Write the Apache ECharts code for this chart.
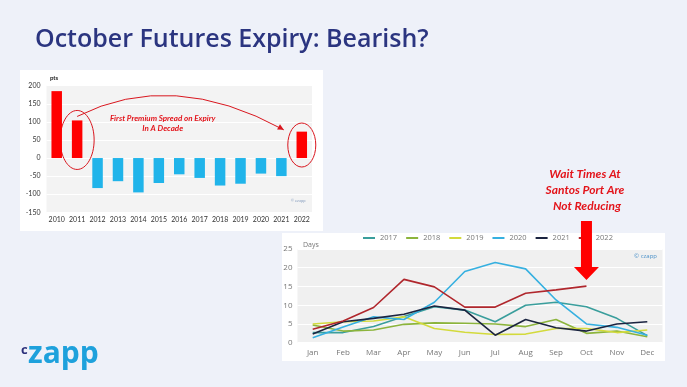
<!DOCTYPE html>
<html><head><meta charset="utf-8">
<script src="https://cdn.jsdelivr.net/npm/echarts@6/dist/echarts.min.js"></script>
<style>
html,body{margin:0;padding:0;width:687px;height:387px;overflow:hidden;background:#eef1f9;}
.panel{position:absolute;background:#fff;}
#chart{position:absolute;left:0;top:0;width:687px;height:387px;}
</style></head><body>
<div class="panel" style="left:20px;top:70px;width:303px;height:161px"></div>
<div class="panel" style="left:282px;top:233px;width:383px;height:128px"></div>
<div id="chart"></div>
<script>
// ---- data ----
const years = ['2010','2011','2012','2013','2014','2015','2016','2017','2018','2019','2020','2021','2022'];
const spreadPts = [185, 104, -83, -64, -95, -69, -45, -55, -76, -71, -43, -50, 73];
const months = ['Jan','Feb','Mar','Apr','May','Jun','Jul','Aug','Sep','Oct','Nov','Dec'];
const wait2017 = [2.7, 2.7, 4.3, 7.0, 9.6, 8.7, 5.6, 10.0, 10.8, 9.6, 6.5, 1.9];
const wait2018 = [4.7, 3.1, 3.4, 4.9, 5.3, 5.2, 5.0, 4.3, 6.2, 2.5, 3.1, 1.6];
const wait2019 = [5.0, 5.6, 5.8, 6.9, 3.8, 2.8, 2.2, 2.3, 3.8, 3.8, 2.7, 3.4];
const wait2020 = [1.3, 4.2, 6.9, 6.2, 10.8, 19.0, 21.4, 19.7, 11.4, 5.0, 4.1, 2.0];
const wait2021 = [2.3, 5.6, 6.5, 7.6, 9.8, 8.7, 2.0, 6.2, 4.0, 3.1, 5.0, 5.6];
const wait2022 = [3.6, 5.8, 9.4, 16.9, 14.9, 9.5, 9.5, 13.2, 14.1, 15.1];
const lineNames = ['2017','2018','2019','2020','2021','2022'];
const lineData = [wait2017, wait2018, wait2019, wait2020, wait2021, wait2022];
const lineColors = ['#3a9e9c','#8cb43c','#d3da3c','#36b0e0','#1b2440','#b0272d'];

const RED = '#ff0000', BLUE = '#20b4ea';
const chart = echarts.init(document.getElementById('chart'), null, {renderer:'canvas'});

const option = {
  backgroundColor: 'transparent',
  animation: false,
  legend: {
    data: lineNames, left: 363, top: 234, padding: 0,
    icon: 'rect', itemWidth: 12, itemHeight: 2, itemGap: 9,
    textStyle: {fontSize: 7.5, color: '#777', fontFamily: 'Open Sans'}
  },
  grid: [
    {left: 46.5, top: 85.7, width: 265.5, height: 126.6, show: true, backgroundColor: '#f3f3f3', borderWidth: 0},
    {left: 297.5, top: 249, width: 365, height: 93.7, show: true, backgroundColor: '#f0f0f0', borderWidth: 0}
  ],
  xAxis: [
    {type: 'category', gridIndex: 0, data: years, axisLine: {show: false}, axisTick: {show: false},
     axisLabel: {fontSize: 7, color: '#333', margin: 4, fontFamily: 'Lato', interval: 0}},
    {type: 'category', gridIndex: 1, data: months, boundaryGap: true, axisLine: {show: false}, axisTick: {show: false},
     axisLabel: {fontSize: 8, color: '#777', margin: 6, fontFamily: 'Open Sans', interval: 0}}
  ],
  yAxis: [
    {type: 'value', gridIndex: 0, min: -150, max: 200, interval: 50,
     axisLabel: {fontSize: 7, color: '#333', margin: 6, fontFamily: 'Lato'},
     splitLine: {lineStyle: {color: '#ffffff', width: 1}}, axisLine: {show: false}, axisTick: {show: false}},
    {type: 'value', gridIndex: 1, min: 0, max: 25, interval: 5,
     axisLabel: {fontSize: 8, color: '#777', margin: 5, fontFamily: 'Open Sans'},
     splitLine: {lineStyle: {color: '#ffffff', width: 1}}, axisLine: {show: false}, axisTick: {show: false}}
  ],
  series: [
    {type: 'bar', xAxisIndex: 0, yAxisIndex: 0, barWidth: 10.5,
     data: spreadPts.map(v => ({value: v, itemStyle: {color: v >= 0 ? RED : BLUE}}))}
  ].concat(lineNames.map((n, i) => ({
    type: 'line', name: n, xAxisIndex: 1, yAxisIndex: 1, data: lineData[i],
    symbol: 'none', lineStyle: {width: 1.6, color: lineColors[i]}, itemStyle: {color: lineColors[i]}, z: 2 + i
  })))
};
chart.setOption(option);

// ---- annotations anchored to the axes ----
const p0 = (c, v) => chart.convertToPixel({xAxisIndex: 0, yAxisIndex: 0}, [c, v]);
const p1 = (c, v) => chart.convertToPixel({xAxisIndex: 1, yAxisIndex: 1}, [c, v]);
const e1 = p0('2011', 50), e2 = p0('2022', 36);
const S = p0('2011', 115), E0 = p0('2022', 78);
const E = [E0[0] - 18, E0[1]];
const C = [172, 68.5];
const ang = Math.atan2(E[1] - C[1], E[0] - C[0]);
const ah = 6, aw = 3;
const arrowHead = [
  [E[0], E[1]],
  [E[0] - ah * Math.cos(ang) + aw * Math.sin(ang), E[1] - ah * Math.sin(ang) - aw * Math.cos(ang)],
  [E[0] - ah * Math.cos(ang) - aw * Math.sin(ang), E[1] - ah * Math.sin(ang) + aw * Math.cos(ang)]
];
const tip = p1('Oct', 16.7);
const bx = tip[0];
const redText = {fill: '#e3141b', fontFamily: 'Lato', fontStyle: 'italic', fontWeight: 'bold'};

chart.setOption({
  graphic: [
    {type: 'text', x: 35, y: 40, style: {text: 'October Futures Expiry: Bearish?', fill: '#2b3580', fontSize: 25, fontWeight: 600, fontFamily: 'Open Sans', verticalAlign: 'middle'}},
    // logo
    {type: 'text', x: 21, y: 350, style: {text: 'c', fill: '#2b2f7a', fontSize: 13, fontWeight: 'bold', fontFamily: 'Open Sans', verticalAlign: 'middle'}},
    {type: 'text', x: 28, y: 354, style: {text: 'zapp', fill: '#1ea1dc', fontSize: 30, fontWeight: 'bold', fontFamily: 'Open Sans', verticalAlign: 'middle'}},
    // bar chart extras
    {type: 'text', x: 50, y: 78, style: {text: 'pts', fill: '#222', fontSize: 6, fontWeight: 'bold', fontFamily: 'Lato', verticalAlign: 'middle'}},
    {type: 'text', x: 298, y: 201, style: {text: '© ezapp', fill: '#8aa0c0', fontSize: 4, fontFamily: 'Lato', align: 'center', verticalAlign: 'middle'}},
    {type: 'ellipse', shape: {cx: e1[0], cy: e1[1], rx: 17, ry: 29.5}, style: {fill: 'none', stroke: '#d9161e', lineWidth: 1}},
    {type: 'ellipse', shape: {cx: e2[0], cy: e2[1], rx: 14, ry: 22}, style: {fill: 'none', stroke: '#d9161e', lineWidth: 1}},
    {type: 'bezierCurve', shape: {x1: S[0], y1: S[1], cpx1: C[0], cpy1: C[1], x2: E[0], y2: E[1]}, style: {fill: 'none', stroke: '#d9161e', lineWidth: 1}},
    {type: 'polygon', shape: {points: arrowHead}, style: {fill: '#d9161e'}},
    {type: 'text', x: 162.7, y: 118.3, style: Object.assign({text: 'First Premium Spread on Expiry', fontSize: 8, align: 'center', verticalAlign: 'middle'}, redText)},
    {type: 'text', x: 162.7, y: 128.3, style: Object.assign({text: 'In A Decade', fontSize: 8, align: 'center', verticalAlign: 'middle'}, redText)},
    // line chart extras
    {type: 'text', x: 303, y: 245, style: {text: 'Days', fill: '#777', fontSize: 7, fontFamily: 'Open Sans', verticalAlign: 'middle'}},
    {type: 'text', x: 657, y: 256, style: {text: '© czapp', fill: '#4a90c8', fontSize: 6, fontFamily: 'Open Sans', align: 'right', verticalAlign: 'middle'}},
    {type: 'text', x: 585, y: 174, style: Object.assign({text: 'Wait Times At', fontSize: 12, align: 'center', verticalAlign: 'middle'}, redText)},
    {type: 'text', x: 585, y: 190, style: Object.assign({text: 'Santos Port Are', fontSize: 12, align: 'center', verticalAlign: 'middle'}, redText)},
    {type: 'text', x: 587, y: 206, style: Object.assign({text: 'Not Reducing', fontSize: 12, align: 'center', verticalAlign: 'middle'}, redText)},
    {type: 'polygon', z: 100, shape: {points: [
      [bx - 5.5, 221], [bx + 5.5, 221], [bx + 5.5, tip[1] - 13], [bx + 12.5, tip[1] - 13],
      [bx, tip[1]], [bx - 12.5, tip[1] - 13], [bx - 5.5, tip[1] - 13]
    ]}, style: {fill: '#ff0000'}}
  ]
});
</script>
</body></html>
